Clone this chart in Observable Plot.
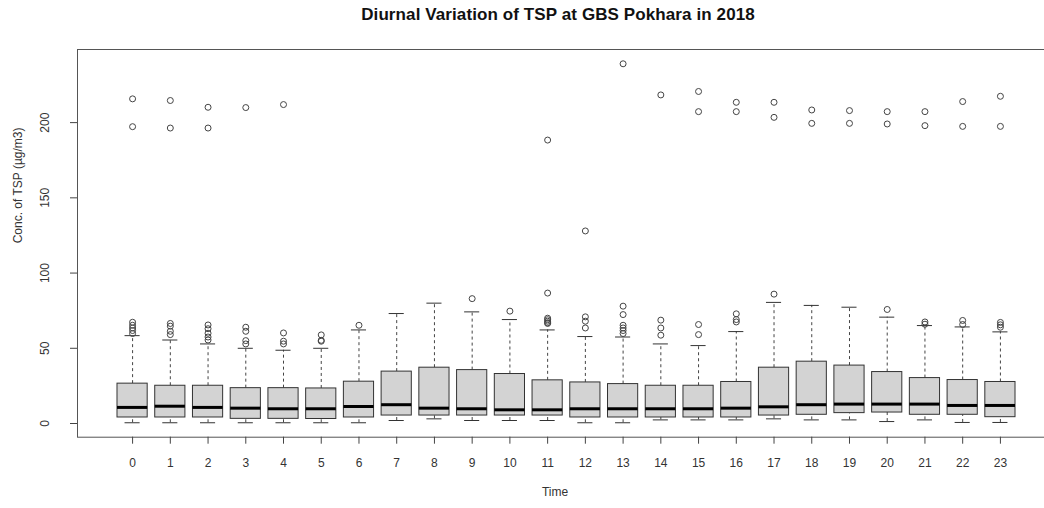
<!DOCTYPE html>
<html>
<head>
<meta charset="utf-8">
<script src="https://cdn.jsdelivr.net/npm/d3@7"></script>
<script src="https://cdn.jsdelivr.net/npm/@observablehq/plot@0.6"></script>
<style>
  html, body { margin: 0; padding: 0; background: #fff; overflow: hidden; }
  #wrap { width: 1044px; height: 508px; overflow: hidden; position: relative; }
  #title { position: absolute; left: 0; top: 0; width: 1116px; height: 30px; line-height: 30px;
           text-align: center; font-family: "Liberation Sans", Arial, sans-serif; font-weight: bold;
           font-size: 17px; color: #111; letter-spacing: 0.1px; }
  #chart { position: absolute; left: 0; top: 30px; }
</style>
</head>
<body>
<div id="wrap">
  <div id="title">Diurnal Variation of TSP at GBS Pokhara in 2018</div>
  <div id="chart"></div>
</div>
<script>
// ---- data ----
const hours = [0,1,2,3,4,5,6,7,8,9,10,11,12,13,14,15,16,17,18,19,20,21,22,23];
const whiskerLow = [0.5,0.5,0.5,0.5,0.5,0.5,0.5,2,3.1,2,2,2,0.5,0.5,2.4,2.4,2.4,3.1,2.4,2.4,1.3,2.4,0.7,0.7];
const q1 = [4,4,4,3.1,3.1,3,4,5.3,5.3,5.3,5.3,5.3,4,4,4,4,4,5.3,5.8,6.9,7.3,5.8,5.8,4.2];
const median = [10.7,11.5,10.7,10.2,9.8,9.8,11.3,12.5,10.2,9.8,9.1,9.1,9.8,9.8,9.8,9.8,10.2,11.1,12.5,12.9,12.9,12.9,12,12];
const q3 = [26.5,25.1,25.1,23.5,23.5,23.3,27.8,34.5,37.1,35.5,32.9,28.7,27.3,26.2,25.1,25.1,27.6,37.1,41.1,38.5,34.2,30.2,28.9,27.6];
const whiskerHigh = [58.4,55.5,52.9,50,48.7,50,62.2,73.1,80,74.2,69.1,62.2,57.8,57.5,52.9,51.8,61.1,80.5,78.5,77.3,70.7,65.1,64.2,60.9];
const outliers = [
  [59.8,61.8,63.5,65.3,67.3,197.3,215.8],
  [59.1,61.3,64.7,66.5,196.4,214.7],
  [55.5,57.5,60,63,65.5,196.4,210.2],
  [52.9,55.1,61.3,64,210],
  [52.9,54.7,60.2,212],
  [54.7,55.3,58.9],
  [65.3],
  [],
  [],
  [83],
  [74.7],
  [66.5,67,68,69,70,86.7,188.4],
  [63.5,68,70.9,128],
  [59.8,61.8,63.5,65.3,72.4,78,239.1],
  [58.7,63.5,68.7,218.4],
  [59.1,65.8,207.3,220.7],
  [67.5,69.1,72.9,207.3,213.5],
  [86,203.5,213.5],
  [199.5,208.4],
  [199.5,208],
  [75.8,199.1,207.3],
  [66,67.5,198,207.3],
  [65.8,68.5,197.5,214],
  [64,65.6,67.2,197.5,217.5]
];
const yTicks = [0, 50, 100, 150, 200];
const xLabel = "Time";
const yLabel = "Conc. of TSP (µg/m3)";

// ---- tables built from arrays ----
const boxes = hours.map((h, i) => ({hour: h, lo: whiskerLow[i], q1: q1[i], med: median[i], q3: q3[i], hi: whiskerHigh[i]}));
const outPts = hours.flatMap((h, i) => outliers[i].map(v => ({hour: h, value: v})));
const half = 0.4, staple = 0.2;

const chart = Plot.plot({
  width: 1044,
  height: 478,
  marginTop: 19,
  marginBottom: 71.3,
  marginLeft: 77,
  marginRight: 0,
  style: {fontFamily: "'Liberation Sans', Arial, sans-serif", fontSize: "12px", color: "#333", background: "white", overflow: "visible"},
  x: {type: "linear", domain: [-1.46, 24.46], range: [77, 1055], axis: null},
  y: {domain: [-9.1, 248.6], range: [406.7, 19], axis: null},
  marks: [
    Plot.frame({stroke: "#555"}),
    // whiskers
    Plot.ruleX(boxes, {x: "hour", y1: "q3", y2: "hi", stroke: "#444", strokeDasharray: "3,3"}),
    Plot.ruleX(boxes, {x: "hour", y1: "lo", y2: "q1", stroke: "#444", strokeDasharray: "3,3"}),
    // staples
    Plot.ruleY(boxes, {y: "hi", x1: d => d.hour - staple, x2: d => d.hour + staple, stroke: "#333"}),
    Plot.ruleY(boxes, {y: "lo", x1: d => d.hour - staple, x2: d => d.hour + staple, stroke: "#333"}),
    // boxes
    Plot.rect(boxes, {x1: d => d.hour - half, x2: d => d.hour + half, y1: "q1", y2: "q3", fill: "#d3d3d3", stroke: "#333"}),
    // medians
    Plot.ruleY(boxes, {y: "med", x1: d => d.hour - half, x2: d => d.hour + half, stroke: "#000", strokeWidth: 3}),
    // outliers
    Plot.dot(outPts, {x: "hour", y: "value", r: 3, stroke: "#444", fill: "none", strokeWidth: 1}),
    // axes
    Plot.axisX({ticks: hours, tickSize: 7, tickPadding: 14, tickFormat: d => String(d), label: null, stroke: "#444"}),
    Plot.axisY({ticks: yTicks, tickSize: 7, tickRotate: -90, tickPadding: 22, tickFormat: d => String(d), label: null, stroke: "#444"}),
    Plot.text([xLabel], {frameAnchor: "bottom", dy: 59, dx: -6, text: d => d, fill: "#333"}),
    Plot.text([yLabel], {frameAnchor: "left", dx: -59, rotate: -90, text: d => d, fill: "#333"})
  ]
});
document.getElementById("chart").appendChild(chart);
</script>
</body>
</html>
